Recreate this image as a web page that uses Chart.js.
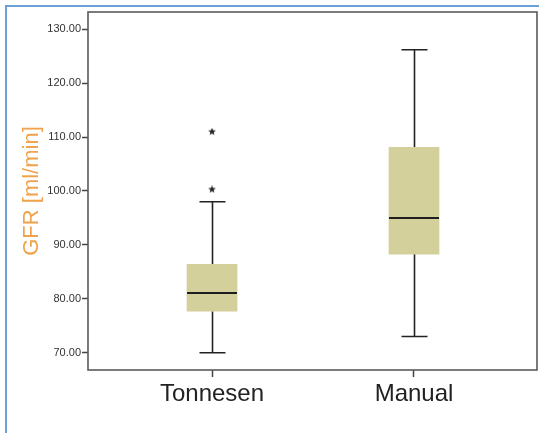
<!DOCTYPE html>
<html>
<head>
<meta charset="utf-8">
<script src="https://cdn.jsdelivr.net/npm/chart.js@4/dist/chart.umd.min.js"></script>
<style>
  html, body { margin: 0; padding: 0; background: #ffffff; overflow: hidden; }
  #wrap { width: 539px; height: 433px; position: relative; overflow: hidden; }
</style>
</head>
<body>
<div id="wrap"><canvas id="c" width="542" height="433"></canvas></div>
<script>
// ---- data ----
const categories   = ['Tonnesen', 'Manual'];
const catPositions = [1, 2];
const whiskerLow   = [70.0, 73.0];
const q1           = [77.7, 88.3];
const median       = [81.1, 95.0];
const q3           = [86.4, 108.1];
const whiskerHigh  = [98.0, 126.2];
const outlierCat   = [1, 1];
const outlierVal   = [100.3, 111.0];
const yTickValues  = [70, 80, 90, 100, 110, 120, 130];

// star point style
function makeStar(size, color) {
  const cv = document.createElement('canvas');
  cv.width = size; cv.height = size;
  const g = cv.getContext('2d');
  const cx = size / 2, cy = size / 2, ro = size / 2, ri = ro * 0.45;
  g.beginPath();
  for (let i = 0; i < 10; i++) {
    const r = i % 2 === 0 ? ro : ri;
    const a = -Math.PI / 2 + i * Math.PI / 5;
    const px = cx + r * Math.cos(a), py = cy + r * Math.sin(a);
    if (i === 0) g.moveTo(px, py); else g.lineTo(px, py);
  }
  g.closePath();
  g.fillStyle = color;
  g.fill();
  return cv;
}
const starImg = makeStar(8, '#2a2a2a');

const boxPlugin = {
  id: 'boxParts',
  beforeDraw(chart) {
    const ctx = chart.ctx;
    ctx.save();
    ctx.fillStyle = '#ffffff';
    ctx.fillRect(0, 0, chart.width, chart.height);
    ctx.strokeStyle = '#6a9fd8';
    ctx.lineWidth = 2;
    ctx.beginPath();
    ctx.moveTo(6, chart.height);
    ctx.lineTo(6, 6);
    ctx.lineTo(chart.width, 6);
    ctx.stroke();
    ctx.restore();
  },
  beforeDatasetsDraw(chart) {
    const ctx = chart.ctx, xs = chart.scales.x, ys = chart.scales.y;
    ctx.save();
    ctx.strokeStyle = '#222222';
    ctx.lineWidth = 1.6;
    for (let i = 0; i < categories.length; i++) {
      const x = Math.round(xs.getPixelForValue(catPositions[i])) + 0.5;
      const capHalf = 13;
      const yLo = ys.getPixelForValue(whiskerLow[i]);
      const yQ1 = ys.getPixelForValue(q1[i]);
      const yQ3 = ys.getPixelForValue(q3[i]);
      const yHi = ys.getPixelForValue(whiskerHigh[i]);
      ctx.beginPath();
      ctx.moveTo(x, yLo); ctx.lineTo(x, yQ1);
      ctx.moveTo(x, yQ3); ctx.lineTo(x, yHi);
      ctx.moveTo(x - capHalf, yLo); ctx.lineTo(x + capHalf, yLo);
      ctx.moveTo(x - capHalf, yHi); ctx.lineTo(x + capHalf, yHi);
      ctx.stroke();
    }
    ctx.restore();
  },
  afterDatasetsDraw(chart) {
    const ctx = chart.ctx, xs = chart.scales.x, ys = chart.scales.y;
    const a = chart.chartArea;
    ctx.save();
    ctx.strokeStyle = '#1e1e1e';
    ctx.lineWidth = 2;
    for (let i = 0; i < categories.length; i++) {
      const x = xs.getPixelForValue(catPositions[i]);
      const ym = ys.getPixelForValue(median[i]);
      ctx.beginPath();
      ctx.moveTo(x - 25, ym); ctx.lineTo(x + 25, ym);
      ctx.stroke();
    }
    // frame
    ctx.strokeStyle = '#5a5a5a';
    ctx.lineWidth = 1.6;
    ctx.strokeRect(a.left, a.top, a.right - a.left, a.bottom - a.top);
    ctx.restore();
  }
};

new Chart(document.getElementById('c'), {
  type: 'bar',
  data: {
    datasets: [
      {
        type: 'bar',
        data: catPositions.map((p, i) => ({ x: p, y: [q1[i], q3[i]] })),
        backgroundColor: '#d4d09b',
        borderWidth: 0,
        barThickness: 50,
        order: 2
      },
      {
        type: 'scatter',
        data: outlierCat.map((c, i) => ({ x: c, y: outlierVal[i] })),
        pointStyle: starImg,
        pointRadius: 4,
        order: 1
      }
    ]
  },
  options: {
    responsive: false,
    animation: false,
    devicePixelRatio: 1,
    layout: { padding: { left: 0, right: 0, top: 12, bottom: 0 } },
    plugins: { legend: { display: false }, tooltip: { enabled: false } },
    scales: {
      x: {
        type: 'linear',
        min: 0.386,
        max: 2.609,
        offset: false,
        afterBuildTicks: s => { s.ticks = catPositions.map(v => ({ value: v })); },
        afterFit: s => { s.height = 63; s.paddingLeft = 0; s.paddingRight = 0; },
        border: { display: false },
        grid: { display: true, offset: false, drawOnChartArea: false, tickLength: 7, tickColor: '#444', tickWidth: 1.5 },
        ticks: {
          autoSkip: false,
          maxRotation: 0,
          padding: 3,
          color: '#222222',
          font: { family: '"Liberation Sans", Arial, sans-serif', size: 24 },
          callback: v => categories[catPositions.indexOf(v)] || ''
        }
      },
      y: {
        type: 'linear',
        min: 66.8,
        max: 133.2,
        afterBuildTicks: s => { s.ticks = yTickValues.map(v => ({ value: v })); },
        afterFit: s => { s.width = 88; s.paddingTop = 0; s.paddingBottom = 0; },
        border: { display: false },
        grid: { display: true, drawOnChartArea: false, tickLength: 6, tickColor: '#444', tickWidth: 1.5 },
        ticks: {
          padding: 1,
          color: '#333333',
          font: { family: '"Liberation Sans", Arial, sans-serif', size: 11 },
          callback: v => Number(v).toFixed(2)
        },
        title: {
          display: true,
          text: 'GFR [ml/min]',
          color: '#f0a24c',
          padding: { top: 19, bottom: 0 },
          font: { family: '"Liberation Sans", Arial, sans-serif', size: 22, lineHeight: 1.2 }
        }
      }
    }
  },
  plugins: [boxPlugin]
});
</script>
</body>
</html>
